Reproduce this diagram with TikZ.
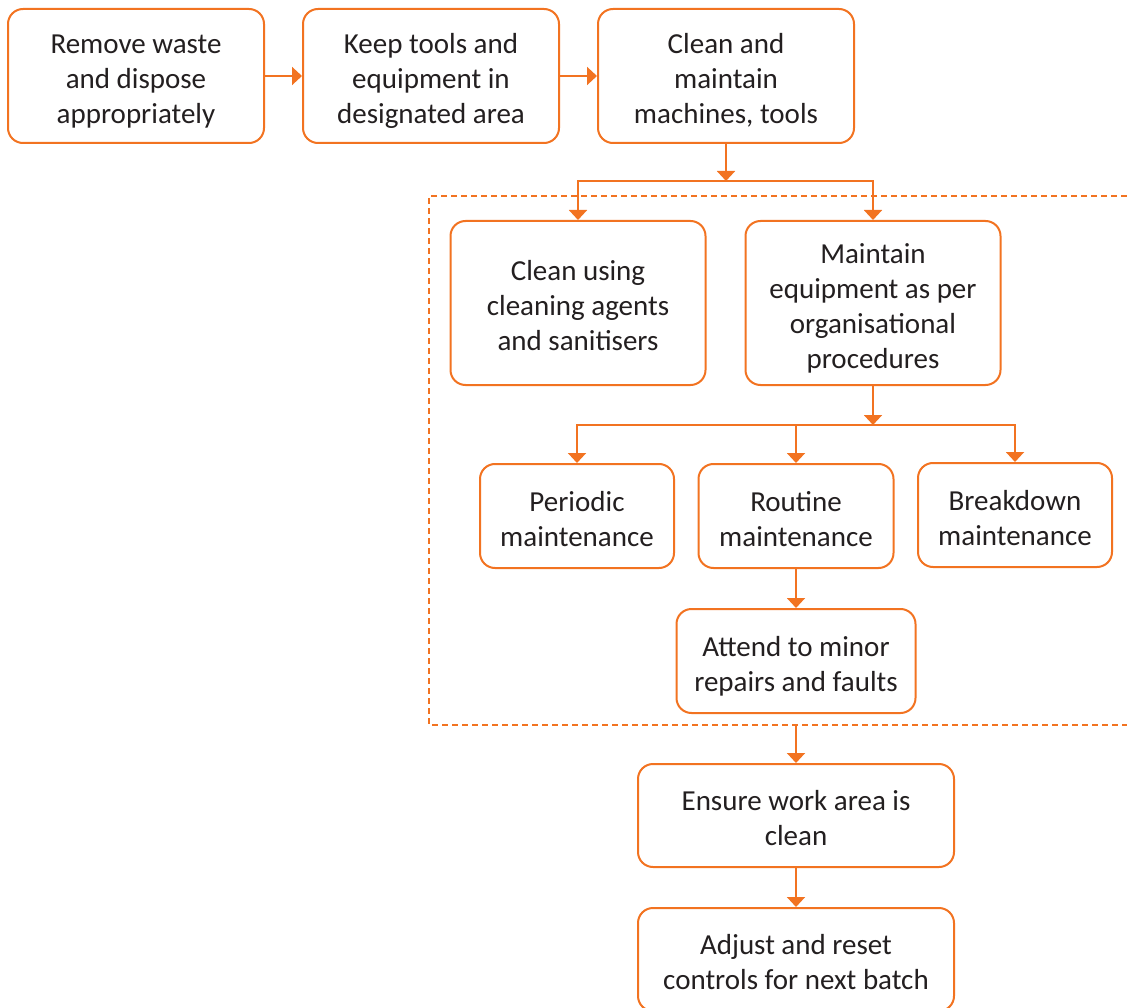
\documentclass[tikz,border=0pt]{standalone}
\usepackage{fontspec}
\setmainfont{Carlito}
\usetikzlibrary{arrows.meta}
\definecolor{flow}{RGB}{242,115,33}
\definecolor{ink}{RGB}{35,31,32}
% fixed first-line height and last-line depth, so every box sets its text alike
\newcommand{\tstrut}{\rule{0pt}{33pt}}
\newcommand{\bstrut}{\rule[-8pt]{0pt}{8pt}}
\begin{document}
\begin{tikzpicture}[x=1pt,y=-1pt,
  box/.style={draw=flow,line width=2pt,rounded corners=15pt,fill=white,
    inner sep=0pt,align=center,text=ink,
    font=\fontsize{29}{35}\selectfont},
  arr/.style={draw=flow,line width=2pt,-{Triangle[width=18pt,length=10pt]}},
  group/.style={draw=flow,line width=2pt,dash pattern=on 6pt off 4pt}]
\useasboundingbox (0,0) rectangle (1127,1008);

% top row
\node[box,minimum width=256pt,minimum height=134pt] (b1) at (136,76)
  {\tstrut Remove waste\\and dispose\\appropriately\bstrut};
\node[box,minimum width=256pt,minimum height=134pt] (b2) at (431,76)
  {\tstrut Keep tools and\\equipment in\\designated area\bstrut};
\node[box,minimum width=256pt,minimum height=134pt] (b3) at (726,76)
  {\tstrut Clean and\\maintain\\machines, tools\bstrut};

% dashed group frame (open on the right)
\coordinate (gtr) at (1127,196);
\coordinate (gtl) at (429,196);
\coordinate (gbl) at (429,725);
\coordinate (gbr) at (1127,725);
\coordinate (gout) at (796,725);
\draw[group] (gtr) -- (gtl) -- (gbl) -- (gbr);

% inside the group
\node[box,minimum width=255pt,minimum height=164pt] (b4) at (578,303)
  {\tstrut Clean using\\cleaning agents\\and sanitisers\bstrut};
\node[box,minimum width=255pt,minimum height=164pt] (b5) at (873,303)
  {\tstrut Maintain\\equipment as per\\organisational\\procedures\bstrut};
\node[box,minimum width=194pt,minimum height=104pt] (b6) at (577,516)
  {\tstrut Periodic\\maintenance\bstrut};
\node[box,minimum width=195pt,minimum height=104pt] (b7) at (796,516)
  {\tstrut Routine\\maintenance\bstrut};
\node[box,minimum width=194pt,minimum height=104pt] (b8) at (1015,515)
  {\tstrut Breakdown\\maintenance\bstrut};
\node[box,minimum width=239pt,minimum height=104pt] (b9) at (796,661)
  {\tstrut Attend to minor\\repairs and faults\bstrut};

% below the group
\node[box,minimum width=316pt,minimum height=103pt] (b10) at (796,815.5)
  {\tstrut Ensure work area is\\clean\bstrut};
\node[box,minimum width=316pt,minimum height=103pt] (b11) at (796,959.5)
  {\tstrut Adjust and reset\\controls for next batch\bstrut};

% connectors
\draw[arr] (b1.east) -- (b2.west);
\draw[arr] (b2.east) -- (b3.west);

\coordinate (s1) at (726,181);
\draw[arr] (b3.south) -- (s1);
\draw[arr] (s1) -| (b4.north);
\draw[arr] (s1) -| (b5.north);

\coordinate (s2) at (873,425);
\draw[arr] (b5.south) -- (s2);
\draw[arr] (s2) -| (b6.north);
\draw[arr] (s2) -| (b7.north);
\draw[arr] (s2) -| (b8.north);

\draw[arr] (b7.south) -- (b9.north);
\draw[arr] (gout) -- (b10.north);
\draw[arr] (b10.south) -- (b11.north);
\end{tikzpicture}
\end{document}
